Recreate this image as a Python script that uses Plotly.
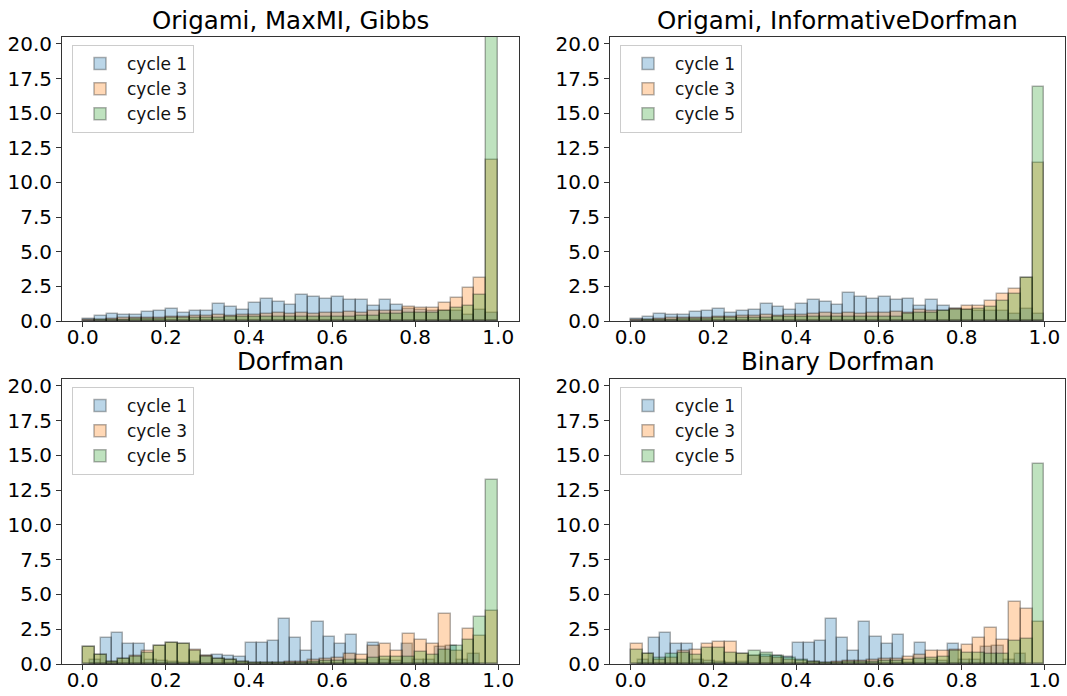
import plotly.graph_objects as go

# ---------------- data (density histograms, 35 bins) ----------------
N_BINS = 35
RANGE_FULL = (0.0, 1.0)          # bin range of most series
RANGE_C1_BOTTOM = (0.0166, 0.955)  # bin range of cycle 1 in bottom panels

titles = ["Origami, MaxMI, Gibbs", "Origami, InformativeDorfman", "Dorfman", "Binary Dorfman"]
series_names = ["cycle 1", "cycle 3", "cycle 5"]
x_ticks = [0.0, 0.2, 0.4, 0.6, 0.8, 1.0]
y_ticks = [0.0, 2.5, 5.0, 7.5, 10.0, 12.5, 15.0, 17.5, 20.0]

gibbs_c1 = [0.14, 0.34, 0.48, 0.43, 0.41, 0.62, 0.72, 0.86, 0.60, 0.72, 0.72, 1.25, 1.03, 0.82, 1.27,
            1.56, 1.34, 1.17, 1.89, 1.73, 1.58, 1.75, 1.51, 1.53, 1.05, 1.49, 1.13, 0.90, 0.80, 0.75,
            0.70, 0.75, 0.45, 0.80, 0.55]
gibbs_c3 = [0.05, 0.10, 0.15, 0.20, 0.20, 0.25, 0.25, 0.30, 0.30, 0.35, 0.35, 0.40, 0.35, 0.40, 0.45,
            0.50, 0.55, 0.50, 0.55, 0.50, 0.55, 0.55, 0.65, 0.60, 0.70, 0.75, 0.74, 0.98, 0.94, 0.96,
            1.30, 1.65, 2.37, 3.07, 11.60]
gibbs_c5 = [0.02, 0.05, 0.08, 0.10, 0.12, 0.15, 0.18, 0.20, 0.20, 0.22, 0.25, 0.25, 0.28, 0.30, 0.30,
            0.30, 0.32, 0.30, 0.30, 0.32, 0.30, 0.30, 0.30, 0.36, 0.38, 0.48, 0.48, 0.58, 0.58, 0.58,
            0.72, 0.91, 1.10, 1.85, 21.80]

infodorf_c1 = [0.14, 0.31, 0.48, 0.43, 0.43, 0.62, 0.70, 0.84, 0.60, 0.70, 0.77, 1.20, 1.03, 0.82, 1.25,
               1.49, 1.34, 1.17, 2.00, 1.73, 1.56, 1.75, 1.49, 1.58, 1.05, 1.49, 1.08, 0.90, 0.80, 0.75,
               0.70, 0.75, 0.50, 0.84, 0.53]
infodorf_c3 = [0.05, 0.10, 0.15, 0.20, 0.20, 0.25, 0.25, 0.30, 0.30, 0.35, 0.35, 0.40, 0.35, 0.40, 0.45,
               0.50, 0.55, 0.50, 0.55, 0.50, 0.55, 0.55, 0.65, 0.60, 0.77, 0.72, 0.75, 0.90, 1.05, 1.05,
               1.44, 1.92, 2.28, 3.10, 11.40]
infodorf_c5 = [0.02, 0.05, 0.08, 0.10, 0.12, 0.15, 0.18, 0.20, 0.20, 0.22, 0.25, 0.25, 0.28, 0.30, 0.30,
               0.30, 0.32, 0.30, 0.30, 0.32, 0.30, 0.30, 0.30, 0.50, 0.55, 0.60, 0.75, 0.80, 0.80, 0.86,
               1.03, 1.44, 1.94, 3.10, 16.90]

bottom_c1 = [0.30, 1.90, 2.20, 1.42, 1.45, 0.30, 0.20, 0.15, 0.10, 0.15, 0.55, 0.67, 0.60, 0.50, 1.53,
             1.50, 1.67, 3.23, 1.90, 0.90, 3.00, 1.97, 1.45, 2.10, 0.10, 1.50, 0.30, 0.20, 1.46, 0.30,
             0.30, 1.22, 1.30, 0.30, 0.70]
dorf_c3 = [1.22, 0.65, 0.15, 0.34, 0.55, 0.94, 1.32, 1.51, 1.46, 0.98, 0.55, 0.36, 0.26, 0.15, 0.07,
           0.07, 0.10, 0.15, 0.15, 0.30, 0.33, 0.45, 0.70, 0.63, 1.27, 1.46, 0.91, 2.13, 1.73, 1.46,
           3.57, 0.94, 2.49, 1.99, 3.79]
dorf_c5 = [1.22, 0.65, 0.15, 0.34, 0.48, 0.80, 1.32, 1.51, 1.41, 0.94, 0.50, 0.34, 0.26, 0.12, 0.07,
           0.05, 0.05, 0.05, 0.08, 0.12, 0.22, 0.22, 0.30, 0.30, 0.45, 0.50, 0.50, 0.50, 0.86, 0.65,
           0.98, 1.27, 1.75, 3.38, 13.20]
bindorf_c3 = [1.41, 0.70, 0.29, 0.45, 0.95, 1.00, 1.44, 1.60, 1.60, 0.72, 0.60, 0.50, 0.40, 0.30, 0.20,
              0.15, 0.10, 0.17, 0.22, 0.24, 0.29, 0.34, 0.38, 0.48, 0.62, 0.94, 0.96, 1.00, 1.39, 1.90,
              2.57, 1.75, 4.44, 3.93, 3.05]
bindorf_c5 = [1.00, 0.72, 0.46, 0.70, 0.82, 0.67, 1.13, 1.13, 0.82, 0.70, 0.96, 0.77, 0.58, 0.46, 0.29,
              0.17, 0.10, 0.10, 0.12, 0.15, 0.18, 0.20, 0.25, 0.29, 0.34, 0.41, 0.48, 0.94, 0.82, 0.77,
              0.72, 0.74, 1.65, 1.80, 14.40]

panels = [
    [(gibbs_c1, RANGE_FULL), (gibbs_c3, RANGE_FULL), (gibbs_c5, RANGE_FULL)],
    [(infodorf_c1, RANGE_FULL), (infodorf_c3, RANGE_FULL), (infodorf_c5, RANGE_FULL)],
    [(bottom_c1, RANGE_C1_BOTTOM), (dorf_c3, RANGE_FULL), (dorf_c5, RANGE_FULL)],
    [(bottom_c1, RANGE_C1_BOTTOM), (bindorf_c3, RANGE_FULL), (bindorf_c5, RANGE_FULL)],
]

# ---------------- styling ----------------
W, H = 1067, 696
FONT = "DejaVu Sans"
face = ["rgba(31,119,180,0.3)", "rgba(255,127,14,0.3)", "rgba(44,160,44,0.3)"]
edge = "rgba(0,0,0,0.3)"

# axes boxes in pixels: (left, right, top, bottom)
boxes = [(62, 519, 37, 321), (610, 1065, 37, 321), (62, 519, 379, 664), (610, 1065, 379, 664)]

fig = go.Figure()
for p, series in enumerate(panels):
    xa = "x" if p == 0 else f"x{p+1}"
    ya = "y" if p == 0 else f"y{p+1}"
    lg = "legend" if p == 0 else f"legend{p+1}"
    for s, (vals, (lo, hi)) in enumerate(series):
        w = (hi - lo) / N_BINS
        centers = [lo + (i + 0.5) * w for i in range(len(vals))]
        fig.add_trace(go.Bar(
            x=centers, y=vals, width=w, name=series_names[s],
            marker=dict(color=face[s], line=dict(color=edge, width=1.5)),
            xaxis=xa, yaxis=ya, legend=lg, legendgroup=f"p{p}s{s}", hoverinfo="x+y",
        ))

layout = dict(
    template="none",
    width=W, height=H, margin=dict(l=0, r=0, t=0, b=0, autoexpand=False),
    paper_bgcolor="white", plot_bgcolor="white",
    barmode="overlay", bargap=0,
    font=dict(family=FONT, size=20, color="black"),
    annotations=[],
)
for p, (l, r, t, b) in enumerate(boxes):
    sx = "" if p == 0 else str(p + 1)
    axis_common = dict(showline=True, mirror=True, linecolor="#333", linewidth=1,
                       ticks="outside", ticklen=5, tickwidth=1, tickcolor="#333",
                       showgrid=False, zeroline=False, tickformat=".1f", automargin=False,
                       tickfont=dict(family=FONT, size=20, color="black"))
    layout["xaxis" + sx] = dict(domain=[l / W, r / W], range=[-0.05, 1.05],
                                tickvals=x_ticks, anchor="y" + sx, ticklabelstandoff=-7,
                                **axis_common)
    layout["yaxis" + sx] = dict(domain=[1 - b / H, 1 - t / H], range=[0, 20.5],
                                tickvals=y_ticks, anchor="x" + sx, **axis_common)
    layout["legend" + sx] = dict(x=(l + 10) / W, y=1 - (t + 8) / H, xanchor="left", yanchor="top",
                                 bgcolor="rgba(255,255,255,0.8)", bordercolor="rgba(0,0,0,0.2)",
                                 borderwidth=1, font=dict(family=FONT, size=17, color="#111"),
                                 tracegroupgap=0, itemwidth=44)
    layout["annotations"].append(dict(text=titles[p], x=(l + r) / 2 / W, y=1 - (t - 17) / H,
                                      xref="paper", yref="paper", showarrow=False,
                                      xanchor="center", yanchor="middle",
                                      font=dict(family=FONT, size=24.5, color="black")))
fig.update_layout(**layout)
fig.write_html("out.html", config={"displayModeBar": False},
               post_script="document.body.style.margin='0';document.body.style.overflow='hidden';")
